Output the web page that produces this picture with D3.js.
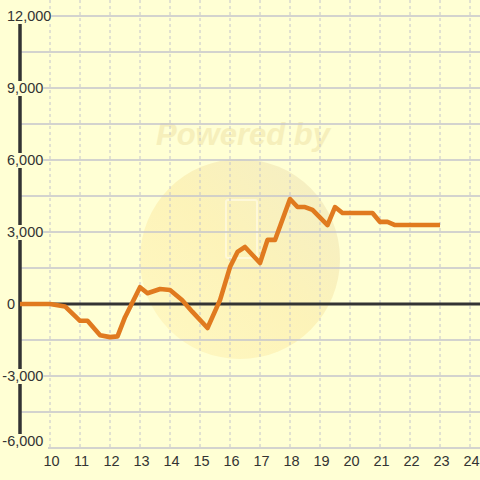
<!DOCTYPE html>
<html><head><meta charset="utf-8">
<script src="https://cdn.jsdelivr.net/npm/d3@7"></script>
<style>html,body{margin:0;padding:0;background:#ffffd4;}svg{display:block;}</style>
</head><body>
<svg id="c" width="480" height="480"></svg>
<script>
const xVals = [9, 10, 10.5, 11, 11.25, 11.67, 12, 12.25, 12.5, 13, 13.25, 13.67, 14, 14.4, 14.75, 15.25, 15.67, 16, 16.25, 16.5, 17, 17.25, 17.5, 18, 18.25, 18.5, 18.75, 19.25, 19.5, 19.75, 20.75, 21, 21.25, 21.5, 23];
const yVals = [0, 0, -100, -700, -700, -1300, -1380, -1350, -550, 700, 450, 625, 580, 170, -330, -1000, 170, 1540, 2170, 2375, 1710, 2670, 2670, 4375, 4040, 4040, 3920, 3290, 4040, 3790, 3790, 3420, 3420, 3290, 3290];
const xTicks = [10, 11, 12, 13, 14, 15, 16, 17, 18, 19, 20, 21, 22, 23, 24];
const yGrid = [-6000, -4500, -3000, -1500, 0, 1500, 3000, 4500, 6000, 7500, 9000, 10500, 12000];
const yLabels = [-6000, -3000, 0, 3000, 6000, 9000, 12000];

const svg = d3.select("#c");
const x = d3.scaleLinear().domain([9, 24 + 1/3]).range([20, 480]);
const y = d3.scaleLinear().domain([-6000, 12000]).range([448, 16]);
const bg = "#ffffd4";

svg.append("rect").attr("width",480).attr("height",480).attr("fill",bg);

// watermark
const defs = svg.append("defs");
const g1 = defs.append("linearGradient").attr("id","wm").attr("x1","1").attr("y1","0").attr("x2","0").attr("y2","1");
g1.append("stop").attr("offset","0").attr("stop-color","#efe8c0");
g1.append("stop").attr("offset","0.5").attr("stop-color","#fcefb0");
g1.append("stop").attr("offset","1").attr("stop-color","#fff6bc");
svg.append("circle").attr("cx",240).attr("cy",259).attr("r",100).attr("fill","url(#wm)").attr("opacity",0.75);
svg.append("rect").attr("x",226).attr("y",200).attr("width",31).attr("height",58).attr("rx",2)
  .attr("fill","none").attr("stroke","#fffbe6").attr("stroke-width",2).attr("opacity",0.7);
svg.append("text").attr("x",243).attr("y",145).attr("text-anchor","middle")
  .attr("font-family","Liberation Sans, Arial, sans-serif").attr("font-weight","bold").attr("font-style","italic")
  .attr("font-size",31).attr("fill","#f4ecb6").attr("opacity",0.8).text("Powered by");

// grid
svg.append("g").selectAll("line").data(xTicks).join("line")
  .attr("x1",d=>x(d)).attr("x2",d=>x(d)).attr("y1",0).attr("y2",y(-6000))
  .attr("stroke","#c4c4cc").attr("stroke-width",1).attr("stroke-dasharray","3,3");
svg.append("g").selectAll("line").data(yGrid.filter(d=>d!==0)).join("line")
  .attr("x1",20).attr("x2",480).attr("y1",d=>y(d)).attr("y2",d=>y(d))
  .attr("stroke","#c4c4cc").attr("stroke-width",1.3);

// y axis line
svg.append("line").attr("x1",20).attr("x2",20).attr("y1",y(12000)).attr("y2",y(-6000))
  .attr("stroke","#333").attr("stroke-width",3.5);
// zero line
svg.append("line").attr("x1",20).attr("x2",480).attr("y1",y(0)).attr("y2",y(0))
  .attr("stroke","#333").attr("stroke-width",3);

// y labels with background boxes
const fmt = d3.format(",");
const yl = svg.append("g");
yLabels.forEach(v => {
  const yy = v === -6000 ? y(v) - 7 : y(v);
  const t = yl.append("text").attr("x", v < 0 ? 2.3 : 7).attr("y", yy).attr("dy","0.36em")
    .attr("font-family","Liberation Sans, Arial, sans-serif").attr("font-size",14.5).attr("fill","#333")
    .text(v < 0 ? "-" + fmt(-v) : fmt(v));
  const b = t.node().getBBox();
  const w = v === -6000 ? 48 : b.x + b.width;
  yl.insert("rect", "text").attr("x", 0).attr("y", yy - 7).attr("width", w).attr("height", v === -6000 ? 17 : 15).attr("fill", bg);
});

// data line
const pts = xVals.map((d,i)=>[d, yVals[i]]);
svg.append("path").datum(pts)
  .attr("d", d3.line().x(d=>x(d[0])).y(d=>y(d[1])))
  .attr("fill","none").attr("stroke","#e07a1f").attr("stroke-width",4.6)
  .attr("stroke-linejoin","round").attr("stroke-linecap","butt");

// x labels
svg.append("g").selectAll("text").data(xTicks).join("text")
  .attr("x",d=>x(d)+1.5).attr("y",461).attr("dy","0.36em").attr("text-anchor","middle")
  .attr("font-family","Liberation Sans, Arial, sans-serif").attr("font-size",14.5).attr("fill","#333")
  .text(d=>d);
</script>
</body></html>
